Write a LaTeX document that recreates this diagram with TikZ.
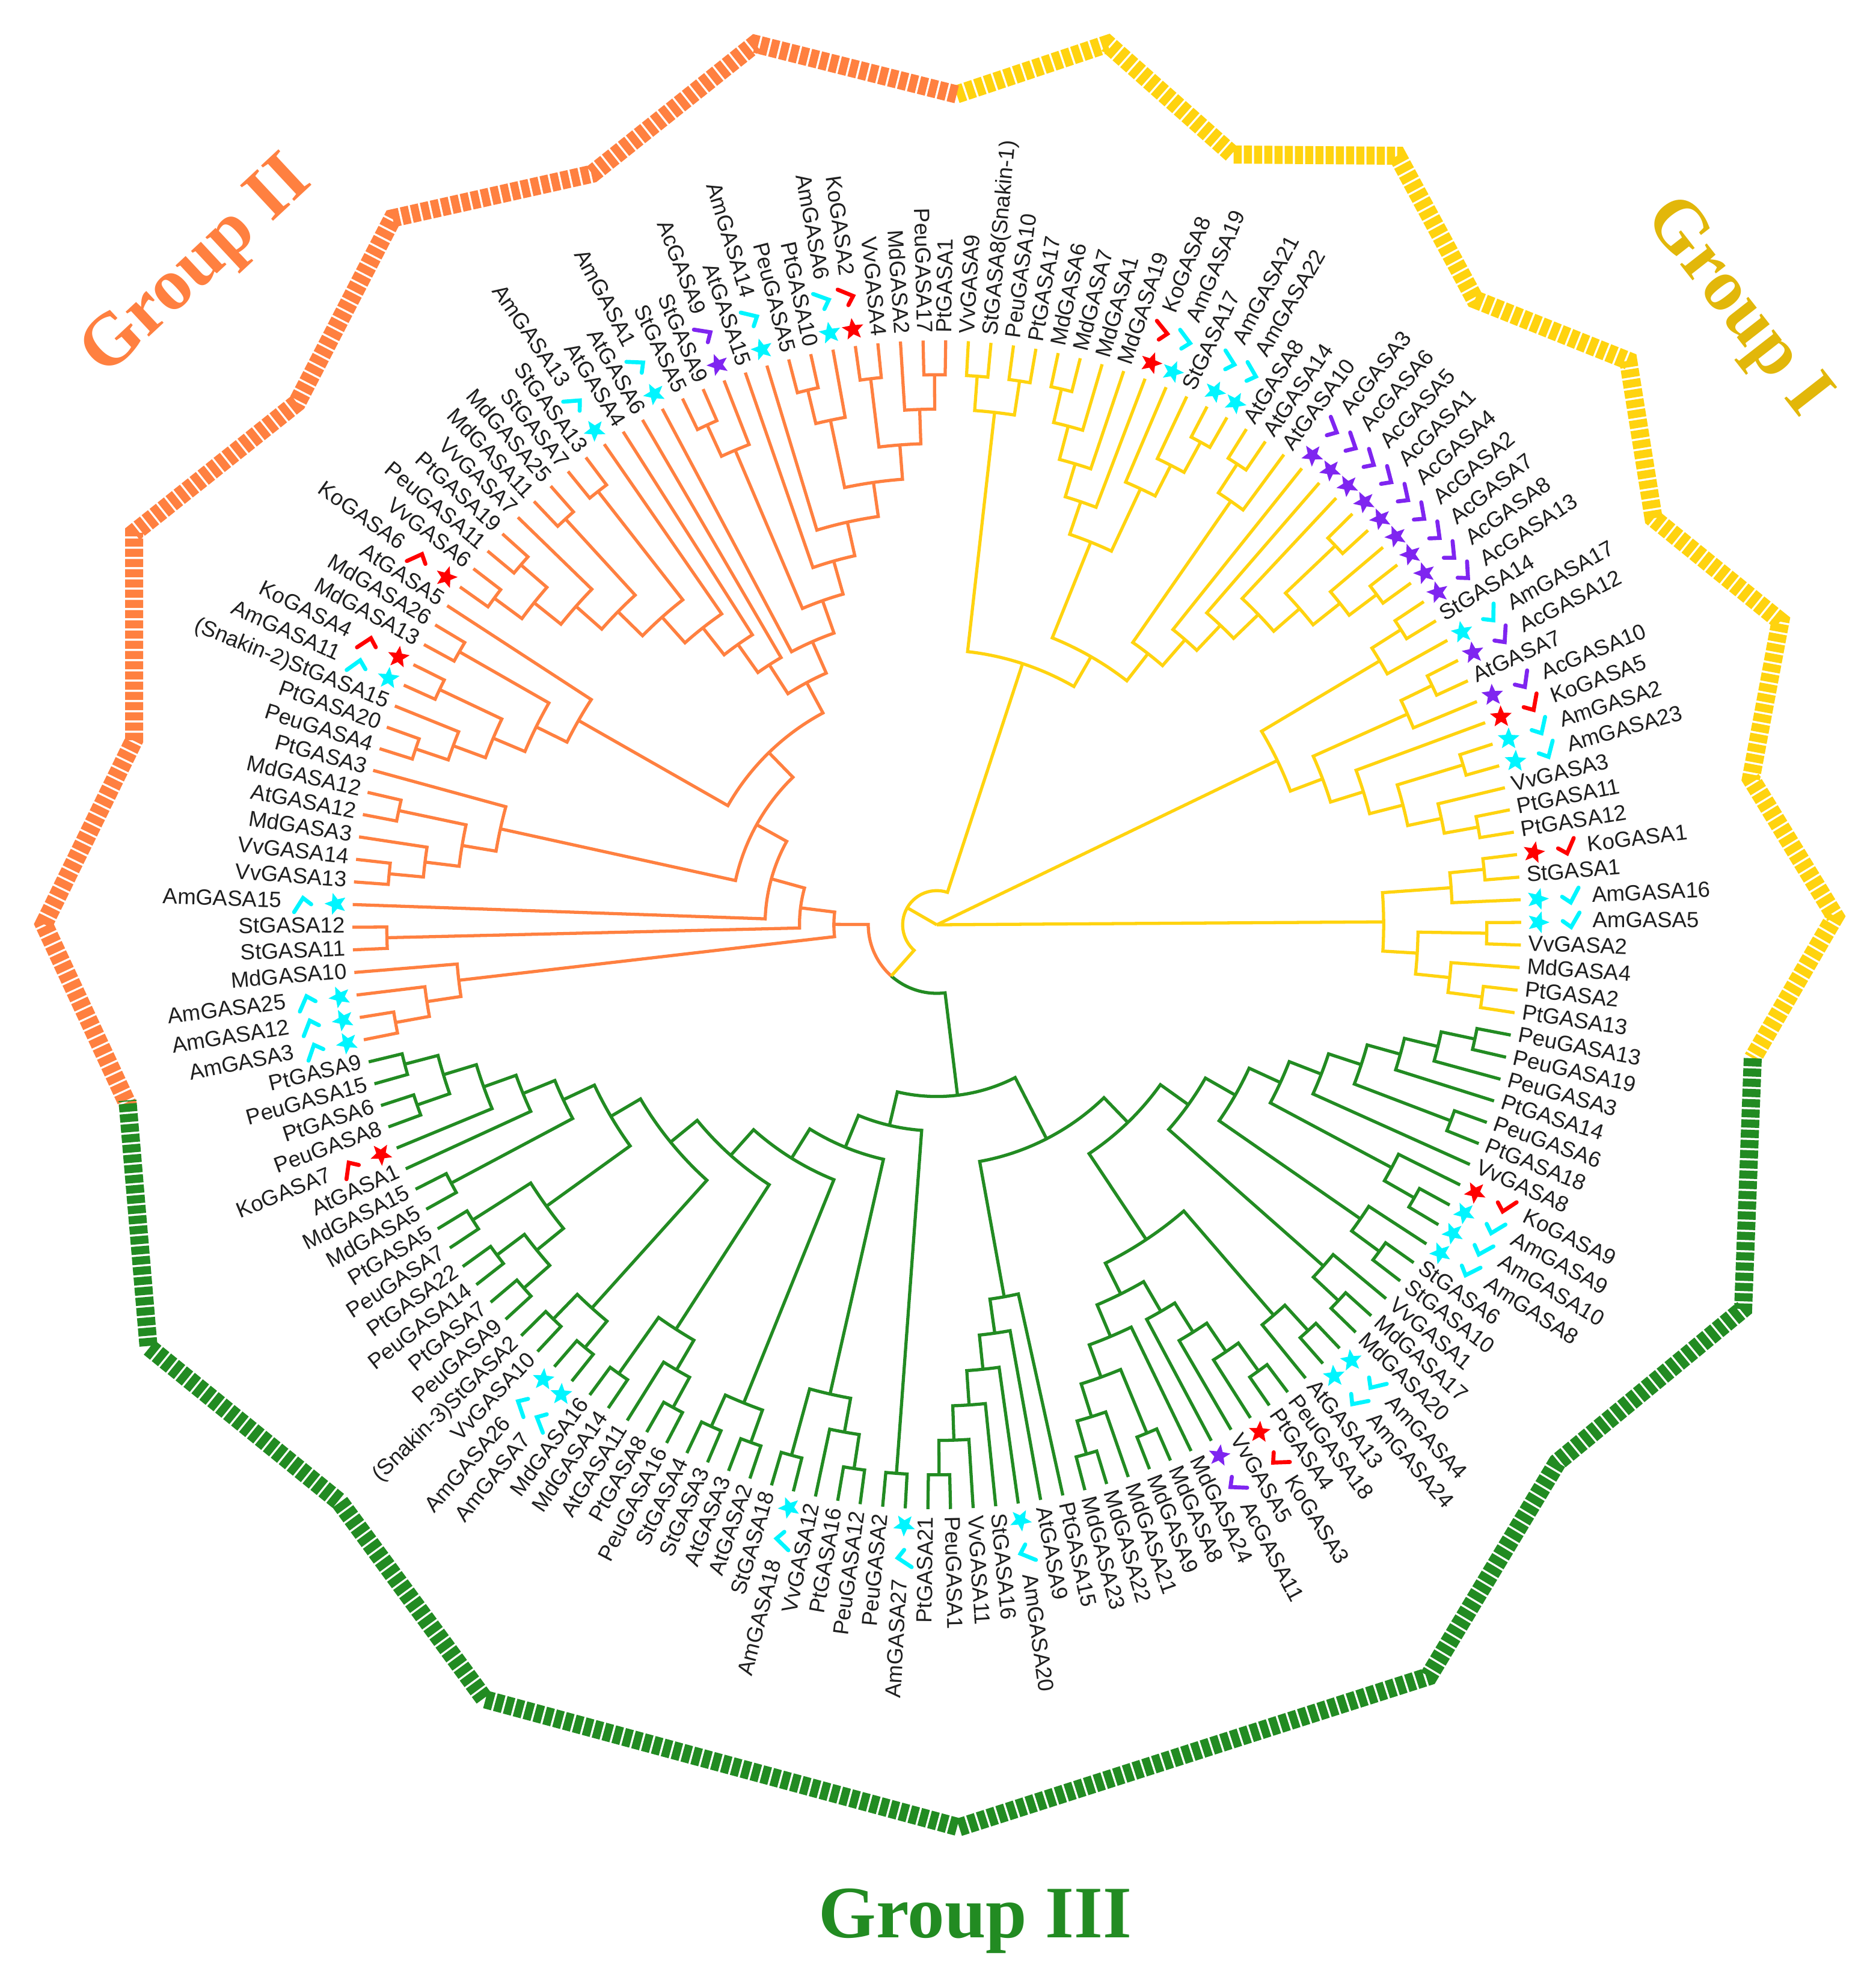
\documentclass[tikz,border=0pt]{standalone}
\usepackage{fontspec}
\setmainfont{Liberation Sans}
\newfontfamily\titlefont{Liberation Serif}
\usetikzlibrary{shapes.geometric}
\definecolor{treeyellow}{HTML}{FFD30F}
\definecolor{treeorange}{HTML}{FF8040}
\definecolor{treegreen}{HTML}{228B22}
\definecolor{titleyellow}{HTML}{E2B70A}
\definecolor{tagr}{HTML}{FF0000}
\definecolor{tagc}{HTML}{00F5FF}
\definecolor{tagp}{HTML}{7F25F0}
\tikzset{
  branch/.style={line width=1.5pt},
  band/.style={line width=.3cm,dash pattern=on .135cm off .035cm},
  genelab/.style={font=\fontsize{10.4}{12}\selectfont,text=black!88,inner sep=0pt},
  genestar/.style={star,star points=5,star point ratio=2.3,minimum size=.38cm,inner sep=0pt},
  genetick/.style={line width=1.9pt,line cap=round},
  grouplab/.style={font=\fontsize{35}{40}\selectfont\titlefont\bfseries,inner sep=0pt}
}
\newcommand{\cladecalc}[3]{%
  \edef\anga{\csname ang #2\endcsname}%
  \edef\angb{\csname ang #3\endcsname}%
  \edef\hga{\csname hgt #2\endcsname}%
  \edef\hgb{\csname hgt #3\endcsname}%
  \pgfmathsetmacro{\angm}{(\anga+\angb)/2}%
  \pgfmathtruncatemacro{\hgm}{max(\hga,\hgb)+1}%
  \pgfmathsetmacro{\radm}{9.72-0.572*\hgm}%
  \expandafter\xdef\csname ang #1\endcsname{\angm}%
  \expandafter\xdef\csname hgt #1\endcsname{\hgm}%
  \coordinate (#1) at (\angm:\radm);}
\newcommand{\clade}[3]{%
  \cladecalc{#1}{#2}{#3}%
  \draw[branch] (#2) -- (\anga:\radm) arc[start angle=\anga,end angle=\angb,radius=\radm] -- (#3);}
\def\plainkind{n}
\begin{document}
\begin{tikzpicture}
\useasboundingbox (0,0) rectangle (31.19,-32.78);
% outer bands
\draw[band,treeyellow] (15.91,-1.57)--(18.42,-.73)--(20.5,-2.57)--(23.24,-2.59)--(24.53,-4.98)--(27.08,-6)--(27.5,-8.62)--(29.61,-10.33)--(29.12,-12.95)--(30.52,-15.24)--(29.15,-17.6);
\draw[band,treeorange] (15.91,-1.57)--(12.56,-.73)--(9.85,-2.89)--(6.53,-3.63)--(4.94,-6.7)--(2.23,-8.86)--(2.23,-12.31)--(.73,-15.37)--(2.14,-18.4);
\draw[band,treegreen] (29.15,-17.6)--(28.99,-21.77)--(25.9,-24.32)--(23.76,-27.88)--(15.95,-30.39)--(8.06,-28.26)--(5.65,-24.98)--(2.47,-22.4)--(2.12,-18.3);
\node[grouplab,text=titleyellow,rotate=-52] (groupone) at (28.86,-5.13) {Group I};
\node[grouplab,text=treeorange,rotate=43] (grouptwo) at (3.3,-4.46) {Group II};
\node[grouplab,text=treegreen] (groupthree) at (16.22,-31.95) {Group III};
\begin{scope}[shift={(15.58,-15.38)}]
\coordinate (root) at (0,0);
% leaves
\foreach \gene/\kind [count=\i] in {VvGASA9/n,StGASA8(Snakin-1)/n,PeuGASA10/n,PtGASA17/n,MdGASA6/n,MdGASA7/n,MdGASA1/n,MdGASA19/n,KoGASA8/r,AmGASA19/c,StGASA17/n,AmGASA21/c,AmGASA22/c,AtGASA8/n,AtGASA14/n,AtGASA10/n,AcGASA3/p,AcGASA6/p,AcGASA5/p,AcGASA1/p,AcGASA4/p,AcGASA2/p,AcGASA7/p,AcGASA8/p,AcGASA13/p,StGASA14/n,AmGASA17/c,AcGASA12/p,AtGASA7/n,AcGASA10/p,KoGASA5/r,AmGASA2/c,AmGASA23/c,VvGASA3/n,PtGASA11/n,PtGASA12/n,KoGASA1/r,StGASA1/n,AmGASA16/c,AmGASA5/c,VvGASA2/n,MdGASA4/n,PtGASA2/n,PtGASA13/n,PeuGASA13/n,PeuGASA19/n,PeuGASA3/n,PtGASA14/n,PeuGASA6/n,PtGASA18/n,VvGASA8/n,KoGASA9/r,AmGASA9/c,AmGASA10/c,AmGASA8/c,StGASA6/n,StGASA10/n,VvGASA1/n,MdGASA17/n,MdGASA20/n,AmGASA4/c,AmGASA24/c,AtGASA13/n,PeuGASA18/n,PtGASA4/n,KoGASA3/r,VvGASA5/n,AcGASA11/p,MdGASA24/n,MdGASA8/n,MdGASA9/n,MdGASA21/n,MdGASA22/n,MdGASA23/n,PtGASA15/n,AtGASA9/n,AmGASA20/c,StGASA16/n,VvGASA11/n,PeuGASA1/n,PtGASA21/n,AmGASA27/c,PeuGASA2/n,PeuGASA12/n,PtGASA16/n,VvGASA12/n,AmGASA18/c,StGASA18/n,AtGASA2/n,AtGASA3/n,StGASA3/n,StGASA4/n,PeuGASA16/n,PtGASA8/n,AtGASA11/n,MdGASA14/n,MdGASA16/n,AmGASA7/c,AmGASA26/c,VvGASA10/n,(Snakin-3)StGASA2/n,PeuGASA9/n,PtGASA7/n,PeuGASA14/n,PtGASA22/n,PeuGASA7/n,PtGASA5/n,MdGASA5/n,MdGASA15/n,AtGASA1/n,KoGASA7/r,PeuGASA8/n,PtGASA6/n,PeuGASA15/n,PtGASA9/n,AmGASA3/c,AmGASA12/c,AmGASA25/c,MdGASA10/n,StGASA11/n,StGASA12/n,AmGASA15/c,VvGASA13/n,VvGASA14/n,MdGASA3/n,AtGASA12/n,MdGASA12/n,PtGASA3/n,PeuGASA4/n,PtGASA20/n,(Snakin-2)StGASA15/n,AmGASA11/c,KoGASA4/r,MdGASA13/n,MdGASA26/n,AtGASA5/n,KoGASA6/r,VvGASA6/n,PeuGASA11/n,PtGASA19/n,VvGASA7/n,MdGASA11/n,MdGASA25/n,StGASA7/n,StGASA13/n,AmGASA13/c,AtGASA4/n,AtGASA6/n,AmGASA1/c,StGASA5/n,StGASA9/n,AcGASA9/p,AtGASA15/n,AmGASA14/c,PeuGASA5/n,PtGASA10/n,AmGASA6/c,KoGASA2/r,VvGASA4/n,MdGASA2/n,PeuGASA17/n,PtGASA1/n}{
  \pgfmathsetmacro{\ang}{86.9-(\i-1)*2.2222}
  \expandafter\xdef\csname ang l\i\endcsname{\ang}
  \expandafter\xdef\csname hgt l\i\endcsname{0}
  \coordinate (l\i) at (\ang:9.72);
  \ifx\kind\plainkind
    \def\labr{9.84}
  \else
    \def\labr{10.9}
    \node[genestar,fill=tag\kind,rotate=\ang-90] (s\i) at (\ang:10) {};
    \draw[genetick,draw=tag\kind,shift={(\ang:10.55)},rotate=\ang] (-.14,.02)--(0,-.08)--(.14,.16);
  \fi
  \pgfmathtruncatemacro{\flip}{cos(\ang)>=0}
  \ifnum\flip=1
    \node[genelab,anchor=mid west,rotate=\ang] (t\i) at (\ang:\labr) {\gene};
  \else
    \node[genelab,anchor=mid east,rotate=\ang+180] (t\i) at (\ang:\labr) {\gene};
  \fi
}
% group I
\begin{scope}[color=treeyellow]
\clade{y1}{l1}{l2}
\clade{y2}{l3}{l4}
\clade{y3}{y1}{y2}
\clade{y4}{l5}{l6}
\clade{y5}{y4}{l7}
\clade{y6}{y5}{l8}
\clade{y7}{y6}{l9}
\clade{y8}{l12}{l13}
\clade{y9}{l11}{y8}
\clade{y10}{l10}{y9}
\clade{y11}{y7}{y10}
\clade{y12}{l14}{l15}
\clade{y13}{y12}{l16}
\clade{y14}{l20}{l21}
\clade{y15}{l23}{l24}
\clade{y16}{l22}{y15}
\clade{y17}{y14}{y16}
\clade{y18}{l19}{y17}
\clade{y19}{l18}{y18}
\clade{y20}{l17}{y19}
\clade{y21}{y13}{y20}
\clade{y22}{y11}{y21}
\clade{y23}{y3}{y22}
\clade{y24}{l25}{l26}
\clade{y25}{y24}{l27}
\clade{y26}{l28}{l29}
\clade{y27}{y26}{l30}
\clade{y28}{l35}{l36}
\clade{y29}{l34}{y28}
\clade{y30}{l32}{l33}
\clade{y31}{y30}{y29}
\clade{y32}{l31}{y31}
\clade{y33}{y27}{y32}
\clade{y34}{y25}{y33}
\clade{y35}{l37}{l38}
\clade{y36}{y35}{l39}
\clade{y37}{l40}{l41}
\clade{y38}{l43}{l44}
\clade{y39}{l42}{y38}
\clade{y40}{y37}{y39}
\clade{y41}{y36}{y40}
\end{scope}
% group II
\begin{scope}[color=treeorange]
\clade{o1}{l116}{l117}
\clade{o2}{l118}{o1}
\clade{o3}{l119}{o2}
\clade{o4}{l120}{l121}
\clade{o5}{l123}{l124}
\clade{o6}{l125}{o5}
\clade{o7}{l126}{l127}
\clade{o8}{o6}{o7}
\clade{o9}{l128}{o8}
\clade{o10}{l129}{l130}
\clade{o11}{l131}{o10}
\clade{o12}{l132}{l133}
\clade{o13}{o11}{o12}
\clade{o14}{l134}{l135}
\clade{o15}{o13}{o14}
\clade{o16}{o15}{l136}
\clade{o17}{l137}{l138}
\clade{o18}{l139}{l140}
\clade{o19}{o17}{o18}
\clade{o20}{o19}{l141}
\clade{o21}{l142}{l143}
\clade{o22}{o20}{o21}
\clade{o23}{l144}{l145}
\clade{o24}{o22}{o23}
\clade{o25}{o24}{l146}
\clade{o26}{o25}{l147}
\clade{o27}{o26}{l148}
\clade{o28}{l150}{l151}
\clade{o29}{o28}{l152}
\clade{o30}{l155}{l156}
\clade{o31}{o30}{l157}
\clade{o32}{l158}{l159}
\clade{o33}{l161}{l162}
\clade{o34}{l160}{o33}
\clade{o35}{o32}{o34}
\clade{o36}{o31}{o35}
\clade{o37}{l154}{o36}
\clade{o38}{l153}{o37}
\clade{o39}{o29}{o38}
\clade{o40}{l149}{o39}
\clade{o41}{o27}{o40}
\clade{o42}{o16}{o41}
\clade{o43}{o9}{o42}
\clade{o44}{l122}{o43}
\clade{o45}{o4}{o44}
\clade{o46}{o3}{o45}
\end{scope}
% group III
\begin{scope}[color=treegreen]
\clade{g1}{l45}{l46}
\clade{g2}{g1}{l47}
\clade{g3}{g2}{l48}
\clade{g4}{l49}{l50}
\clade{g5}{g3}{g4}
\clade{g6}{g5}{l51}
\clade{g7}{l53}{l54}
\clade{g8}{l52}{g7}
\clade{g9}{g6}{g8}
\clade{g10}{l56}{l57}
\clade{g11}{l55}{g10}
\clade{g12}{g9}{g11}
\clade{g13}{l59}{l60}
\clade{g14}{l58}{g13}
\clade{g15}{g12}{g14}
\clade{g16}{l61}{l62}
\clade{g17}{g16}{l63}
\clade{g18}{l64}{l65}
\clade{g19}{g18}{l66}
\clade{g20}{g19}{l67}
\clade{g21}{g20}{l68}
\clade{g22}{l73}{l74}
\clade{g23}{g22}{l72}
\clade{g24}{l70}{l71}
\clade{g25}{g23}{g24}
\clade{g26}{g25}{l69}
\clade{g27}{g26}{g21}
\clade{g28}{g17}{g27}
\clade{g29}{g15}{g28}
\clade{g30}{l80}{l81}
\clade{g31}{g30}{l79}
\clade{g32}{g31}{l78}
\clade{g33}{g32}{l77}
\clade{g34}{g33}{l76}
\clade{g35}{g34}{l75}
\clade{g36}{g29}{g35}
\clade{g37}{l82}{l83}
\clade{g38}{l84}{l85}
\clade{g39}{g38}{l86}
\clade{g40}{l87}{l88}
\clade{g41}{g39}{g40}
\clade{g42}{l89}{l90}
\clade{g43}{l91}{l92}
\clade{g44}{g42}{g43}
\clade{g45}{l93}{l94}
\clade{g46}{l95}{g45}
\clade{g47}{l96}{l97}
\clade{g48}{g46}{g47}
\clade{g49}{l98}{l99}
\clade{g50}{l100}{l101}
\clade{g51}{g49}{g50}
\clade{g52}{l102}{l103}
\clade{g53}{l104}{l105}
\clade{g54}{g52}{g53}
\clade{g55}{l106}{l107}
\clade{g56}{g54}{g55}
\clade{g57}{l108}{l109}
\clade{g59}{l112}{l113}
\clade{g60}{l114}{l115}
\clade{g61}{g59}{g60}
\clade{g62}{g61}{l111}
\clade{g63}{g62}{l110}
\clade{g64}{g63}{g57}
\clade{g65}{g64}{g56}
\clade{g66}{g65}{g51}
\clade{g67}{g66}{g48}
\clade{g68}{g67}{g44}
\clade{g69}{g68}{g41}
\clade{g70}{g69}{g37}
\clade{g71}{g70}{g36}
\end{scope}
% centre
\cladecalc{z}{o46}{g71}
\draw[branch,treeorange] (o46) -- (\anga:\radm) arc[start angle=\anga,end angle=\angm,radius=\radm];
\draw[branch,treegreen] (g71) -- (\angb:\radm) arc[start angle=\angb,end angle=\angm,radius=\radm];
\pgfmathsetmacro{\angz}{\angm+360}
\expandafter\xdef\csname ang z\endcsname{\angz}
\begin{scope}[color=treeyellow]
\clade{y42}{y23}{z}
\draw[branch] (y41) -- (root);
\draw[branch] (y34) -- (root);
\draw[branch] (y42) -- (root);
\end{scope}
\end{scope}
\end{tikzpicture}
\end{document}
